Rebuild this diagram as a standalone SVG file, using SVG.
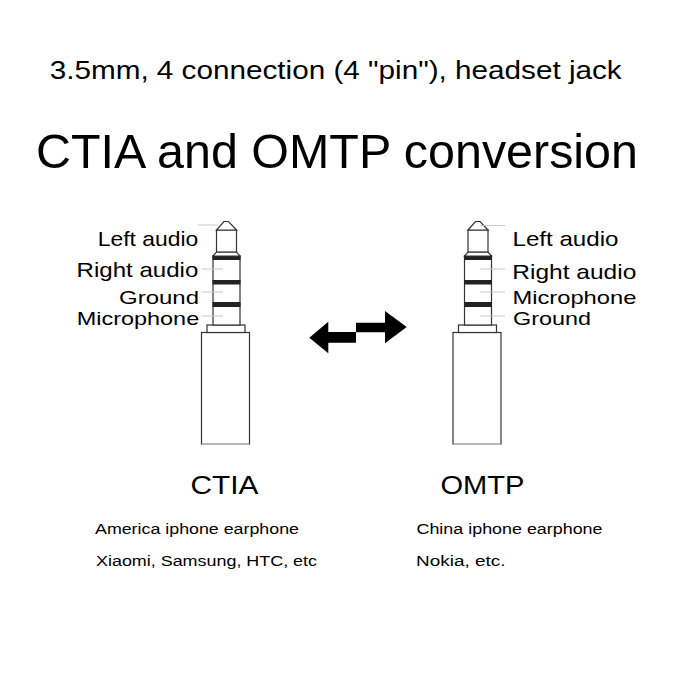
<svg xmlns="http://www.w3.org/2000/svg" width="700" height="700" viewBox="0 0 700 700">
<style>
text{font-family:"Liberation Sans",Arial,sans-serif;fill:#000}
.lbl{font-size:21px}
.lbs{font-size:19px}
.sm{font-size:15.4px}
.hd{font-size:25.6px}
.out{fill:#fff;stroke:#333;stroke-width:1.2}
.band{fill:#222}
.lead{stroke:#c8c8c8;stroke-width:1}
.bot{stroke:#c8c8c8;stroke-width:1.5}
</style>
<defs>
<g id="jack">
<rect class="out" x="201.5" y="332.5" width="48" height="111.5"/>
<line class="bot" x1="202" y1="444" x2="249" y2="444"/>
<rect class="out" x="207" y="325" width="38" height="7.5"/>
<rect class="out" x="213" y="256" width="27" height="69"/>
<rect class="band" x="212.5" y="255.5" width="28" height="4.5"/>
<rect class="band" x="212.5" y="280" width="28" height="4.5"/>
<rect class="band" x="212.5" y="302" width="28" height="5"/>
<polygon class="out" points="216.5,252 236.5,252 240,256 213,256"/>
<rect class="out" x="216.5" y="230" width="20" height="22"/>
<polygon class="out" points="216.5,230 224,221.5 228.5,221.5 236.5,230"/>
</g>
</defs>
<rect width="700" height="700" fill="#fff"/>
<text x="49.7" y="78.5" font-size="26.5" textLength="572" lengthAdjust="spacingAndGlyphs">3.5mm, 4 connection (4 "pin"), headset jack</text>
<text x="36" y="168" font-size="49" textLength="602" lengthAdjust="spacingAndGlyphs">CTIA and OMTP conversion</text>
<g id="ctia-jack">
<use href="#jack"/>
<line class="lead" x1="198" y1="225" x2="218" y2="225"/>
<line class="lead" x1="201.5" y1="269" x2="223" y2="269"/>
<line class="lead" x1="201.5" y1="292" x2="223" y2="292"/>
<line class="lead" x1="201.5" y1="316" x2="223" y2="316"/>
<text class="lbl" x="97.8" y="245.7" textLength="100.5" lengthAdjust="spacingAndGlyphs">Left audio</text>
<text class="lbl" x="76.6" y="276.7" textLength="121.7" lengthAdjust="spacingAndGlyphs">Right audio</text>
<text class="lbs" x="119" y="303.5" textLength="80" lengthAdjust="spacingAndGlyphs">Ground</text>
<text class="lbs" x="76.7" y="325" textLength="122.5" lengthAdjust="spacingAndGlyphs">Microphone</text>
</g>
<g id="omtp-jack">
<use href="#jack" transform="translate(251.5,0)"/>
<line class="lead" x1="480" y1="225.5" x2="505" y2="225.5"/>
<line class="lead" x1="480" y1="269" x2="505" y2="269"/>
<line class="lead" x1="480" y1="292" x2="505" y2="292"/>
<line class="lead" x1="480" y1="316" x2="505" y2="316"/>
<text class="lbl" x="512.5" y="245.7" textLength="106" lengthAdjust="spacingAndGlyphs">Left audio</text>
<text class="lbl" x="512.3" y="279.3" textLength="124" lengthAdjust="spacingAndGlyphs">Right audio</text>
<text class="lbs" x="512.4" y="303.5" textLength="124" lengthAdjust="spacingAndGlyphs">Microphone</text>
<text class="lbs" x="513" y="325" textLength="78" lengthAdjust="spacingAndGlyphs">Ground</text>
</g>
<g id="connectors">
<polygon fill="#000" points="309.3,337.7 328.3,321.7 328.3,332 356,332 356,342.7 328.3,342.7 328.3,353.3"/>
<polygon fill="#000" points="406.7,327 385,311 385,322.7 356,322.7 356,332.3 385,332.3 385,343.3"/>
</g>
<g id="ctia-caption">
<text class="hd" x="190.4" y="493.5" textLength="68" lengthAdjust="spacingAndGlyphs">CTIA</text>
<text class="sm" x="95" y="534.3" textLength="204" lengthAdjust="spacingAndGlyphs">America iphone earphone</text>
<text class="sm" x="96" y="566" textLength="221" lengthAdjust="spacingAndGlyphs">Xiaomi, Samsung, HTC, etc</text>
</g>
<g id="omtp-caption">
<text class="hd" x="440.5" y="494.3" textLength="84" lengthAdjust="spacingAndGlyphs">OMTP</text>
<text class="sm" x="416.5" y="534.3" textLength="186" lengthAdjust="spacingAndGlyphs">China iphone earphone</text>
<text class="sm" x="416" y="566" textLength="89.5" lengthAdjust="spacingAndGlyphs">Nokia, etc.</text>
</g>
</svg>
